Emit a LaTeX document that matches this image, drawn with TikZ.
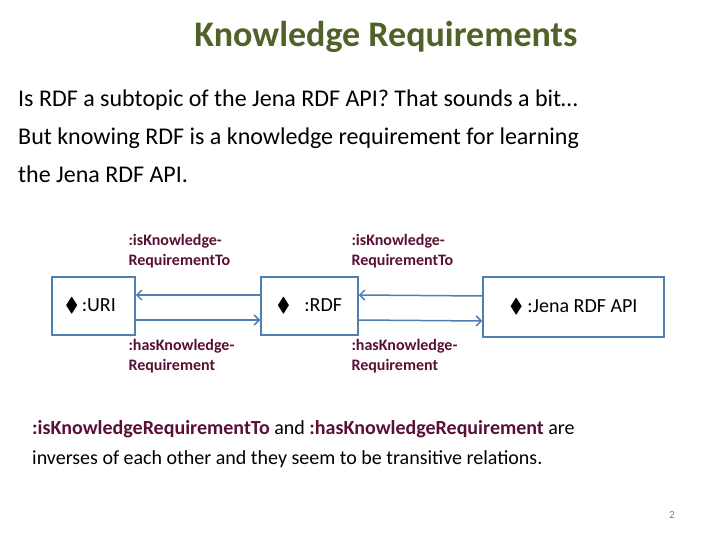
\documentclass[tikz,border=0pt]{standalone}
\usepackage{amssymb}
\usepackage{fontspec}
\setmainfont{Carlito}
\usetikzlibrary{arrows.meta,positioning}
\definecolor{titlegreen}{HTML}{4F6228}
\definecolor{relred}{HTML}{5A1035}
\definecolor{linkblue}{HTML}{4F7FB0}
\begin{document}
\begin{tikzpicture}[x=1pt,y=-1pt,
  res/.style={draw=linkblue,line width=1.5pt,minimum height=58pt,inner sep=0pt,font=\fontsize{20}{22}\selectfont},
  rel/.style={text=relred,font=\bfseries\fontsize{16}{20}\selectfont,align=left},
  link/.style={draw=linkblue,line width=1.5pt,-{Straight Barb[length=5pt,width=10pt]}}]
  \useasboundingbox (0,0) rectangle (720,540);

  \node[text=titlegreen,font=\bfseries\fontsize{36}{40}\selectfont] (title) at (386,37) {Knowledge Requirements};
  \node[anchor=north west,align=left,font=\fontsize{24}{38}\selectfont,inner sep=0pt] (intro) at (18,90)
    {Is RDF a subtopic of the Jena RDF API? That sounds a bit\ldots\\
     But knowing RDF is a knowledge requirement for learning\\
     the Jena RDF API.};

  \node[res,minimum width=83pt] (uri) at (93.5,306) {$\blacklozenge$\,:URI\hspace*{6pt}};
  \node[res,minimum width=97pt] (rdf) at (309.5,306) {$\blacklozenge$\hspace{14pt}:RDF};
  \node[res,minimum width=181pt,minimum height=60pt] (jena) at (573.5,307) {$\blacklozenge$ :Jena RDF API};

  \draw[link] ([yshift=-14pt]uri.east) -- ([yshift=-14pt]rdf.west);
  \draw[link] ([yshift=11pt]rdf.west) -- ([yshift=11pt]uri.east);
  \draw[link] ([yshift=-14pt]rdf.east) -- ([yshift=-14pt]jena.west);
  \draw[link] ([yshift=11pt]jena.west) -- ([yshift=11pt]rdf.east);

  \node[rel,anchor=south west] (isto1) at (125,272) {:isKnowledge-\\RequirementTo};
  \node[rel,anchor=south west] (isto2) at (348,272) {:isKnowledge-\\RequirementTo};
  \node[rel,anchor=north west] (has1) at (125,336) {:hasKnowledge-\\Requirement};
  \node[rel,anchor=north west] (has2) at (348,336) {:hasKnowledge-\\Requirement};

  \node[anchor=north west,align=left,inner sep=0pt,font=\fontsize{20}{30}\selectfont] (summary) at (32,420)
    {\textcolor{relred}{\bfseries :isKnowledgeRequirementTo} and \textcolor{relred}{\bfseries :hasKnowledgeRequirement} are\\
     inverses of each other and they seem to be transitive relations.};
  \node[text=gray,font=\fontsize{11}{12}\selectfont] (page) at (672,515) {2};
\end{tikzpicture}
\end{document}
